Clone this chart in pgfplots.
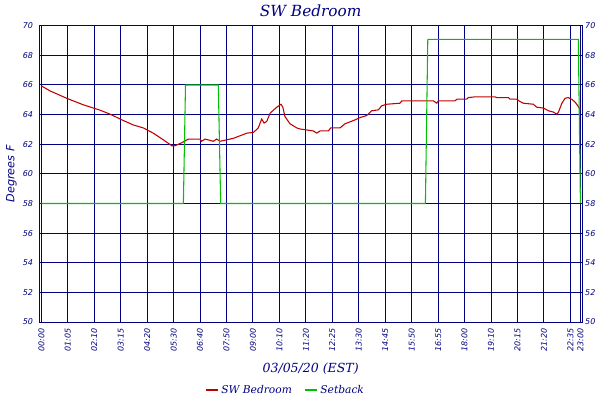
\documentclass[border=0pt]{standalone}
\usepackage{fontspec}
\usepackage{pgfplots}
\pgfplotsset{compat=1.18}
\setmainfont{DejaVu Serif}
\newfontfamily\ticksfont{DejaVu Sans Oblique}
\newfontfamily\titlefont{DejaVu Serif Italic}
\definecolor{navy}{RGB}{0,0,128}
\definecolor{tempred}{RGB}{192,0,0}
\definecolor{setgreen}{RGB}{0,192,0}

\begin{document}
\begin{tikzpicture}
\useasboundingbox (0,0) rectangle (450pt,300pt);
\begin{axis}[
  at={(29.5pt,58.5pt)}, anchor=south west,
  scale only axis, width=407pt, height=222.2pt,
  xmin=-0.076, xmax=20.44,
  ymin=50, ymax=70,
  xtick={0,1,...,20,20.38},
  xticklabels={00:00,01:05,02:10,03:15,04:20,05:30,06:40,07:50,09:00,10:10,11:20,12:25,13:30,14:45,15:50,16:55,18:00,19:10,20:15,21:20,22:35,23:00},
  ytick={50,52,...,70},
  /pgf/number format/assume math mode=true,
  grid=major,
  grid style={navy, line width=0.75pt},
  axis line style={navy, line width=0.75pt},
  major tick length=0pt,
  tick label style={font=\ticksfont\fontsize{6}{7}\selectfont, text=navy},
  xticklabel style={rotate=90, anchor=east, inner sep=0pt},
  xticklabel shift=4.7pt,
  yticklabel style={anchor=east, inner sep=0pt},
  yticklabel shift=4.5pt,
  every axis title shift=0pt,
  title={SW Bedroom},
  title style={font=\titlefont\fontsize{11.5}{13}\selectfont, text=navy,
    at={(axis description cs:0.5,1)}, anchor=base, yshift=6.8pt},
  xlabel={03/05/20 (EST)},
  xlabel style={font=\titlefont\fontsize{9.4}{11}\selectfont, text=navy,
    at={(axis description cs:0.5,0)}, anchor=base, yshift=-37.5pt},
  ylabel={Degrees F},
  ylabel style={font=\ticksfont\fontsize{8.4}{10}\selectfont, text=navy,
    at={(axis description cs:-0.046,0.5)}, anchor=base},
  legend columns=2,
  legend style={at={(axis description cs:0.454,-0.2295)}, anchor=center,
    draw=none, fill=none, inner sep=0pt,
    font=\titlefont\fontsize{8}{9}\selectfont, text=navy,
    /tikz/every even column/.append style={column sep=7pt}},
  legend image code/.code={\draw[#1, line width=1.6pt] (0pt,0pt) -- (8.75pt,0pt);},
]
\addplot[color=tempred, line width=0.8pt] coordinates {
(0,65.94) (0.33,65.6) (0.96,65.1) (1.59,64.66) (2.22,64.3) (2.60,64.03)
(3.10,63.6) (3.48,63.3) (3.86,63.1) (4.23,62.75) (4.61,62.3) (4.93,61.9)
(5.05,61.9) (5.31,62.1) (5.56,62.35) (6.00,62.35) (6.06,62.2) (6.19,62.35)
(6.50,62.2) (6.63,62.35) (6.76,62.2) (7.01,62.3) (7.26,62.4) (7.51,62.57)
(7.77,62.75) (8.02,62.8) (8.20,63.1) (8.33,63.7) (8.42,63.43) (8.52,63.54)
(8.65,64.1) (8.90,64.5) (9.06,64.7) (9.13,64.5) (9.21,63.87) (9.40,63.38)
(9.66,63.1) (9.78,63.03) (10.28,62.9) (10.41,62.75) (10.54,62.9) (10.85,62.9)
(10.94,63.1) (11.29,63.1) (11.48,63.38) (11.80,63.6) (12.05,63.8) (12.30,63.94)
(12.49,64.26) (12.74,64.32) (12.87,64.6) (13.06,64.7) (13.56,64.77) (13.63,64.93)
(14.82,64.93) (14.95,64.77) (15.01,64.93) (15.64,64.93) (15.71,65.04) (16.08,65.04)
(16.14,65.15) (16.40,65.2) (17.15,65.2) (17.22,65.15) (17.66,65.15) (17.72,65.04)
(17.97,65.04) (18.10,64.88) (18.22,64.77) (18.60,64.7) (18.73,64.5) (18.98,64.44)
(19.17,64.26) (19.36,64.17) (19.49,64.03) (19.55,64.17) (19.68,64.77) (19.80,65.1)
(19.92,65.15) (20.05,65.04) (20.18,64.84) (20.30,64.55) (20.37,64.32)
};
\addlegendentry{SW Bedroom}
\addplot[color=setgreen, line width=0.8pt] coordinates {
(0,58) (5.37,58) (5.45,66) (6.69,66) (6.78,58)
(14.52,58) (14.61,69.08) (20.30,69.08) (20.38,58)
};
\addlegendentry{Setback}
\end{axis}
% right-hand tick labels
\begin{axis}[
  at={(29.5pt,58.5pt)}, anchor=south west,
  scale only axis, width=407pt, height=222.2pt,
  xmin=-0.076, xmax=20.44, xtick=\empty,
  ymin=50, ymax=70, ytick={50,52,...,70},
  yticklabel pos=right,
  /pgf/number format/assume math mode=true,
  axis line style={draw=none},
  major tick length=0pt,
  tick label style={font=\ticksfont\fontsize{6}{7}\selectfont, text=navy},
  yticklabel style={anchor=west, inner sep=0pt},
  yticklabel shift=2.2pt,
]
\end{axis}
\end{tikzpicture}
\end{document}
